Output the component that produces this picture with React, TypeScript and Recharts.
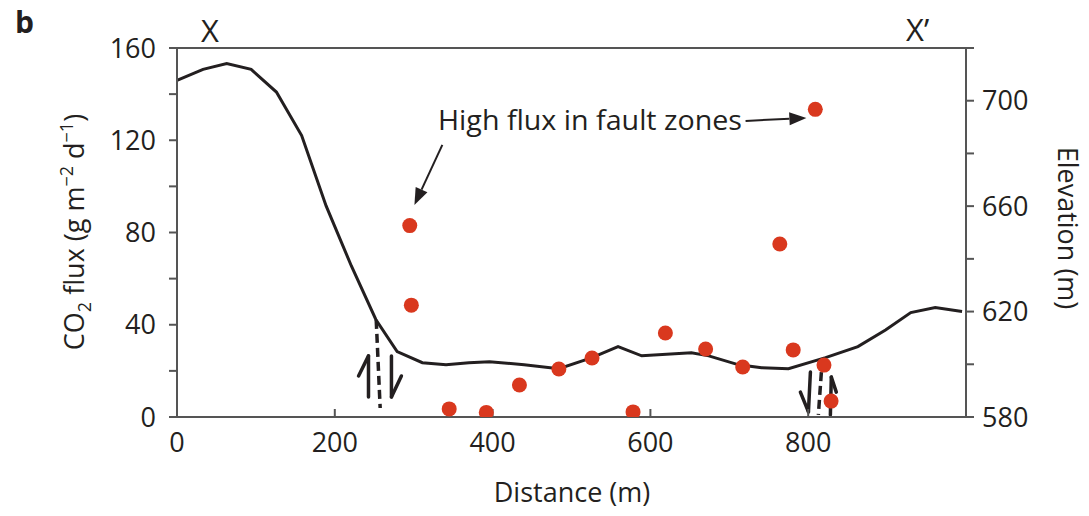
import React from 'react'
import {
  ComposedChart,
  Line,
  Scatter,
  XAxis,
  YAxis,
  ReferenceLine,
  Customized,
} from 'recharts'

// elevation profile along X–X' (distance m, elevation m)
const profileDistance = [
  0, 33, 63, 94, 126, 158, 189, 221, 252, 279, 311, 341, 370, 396, 440, 484,
  526, 559, 589, 652, 674, 712, 741, 775, 822, 863, 898, 930, 961, 995,
]
const profileElevation = [
  707.7, 711.9, 714.1, 711.9, 703.3, 686.8, 660.1, 637.3, 617, 604.8, 600.6,
  599.8, 600.6, 601, 599.8, 598.3, 602.5, 606.7, 603.2, 604.4, 603.2, 599.8,
  598.7, 598.3, 602.5, 606.7, 613, 619.6, 621.5, 620,
]

// CO2 flux measurements (distance m, flux g m-2 d-1)
const fluxDistance = [
  295, 297, 345, 392, 434, 484, 526, 578, 619, 670, 717, 764, 781, 809, 820, 829,
]
const fluxValue = [
  83, 48.5, 3.5, 2, 13.9, 20.8, 25.6, 2.2, 36.4, 29.5, 21.7, 75, 29.1, 133.4,
  22.5, 6.9,
]

const distanceTicks = [0, 200, 400, 600, 800]
const fluxTicks = [0, 20, 40, 60, 80, 100, 120, 140, 160]
const elevationTicks = [580, 600, 620, 640, 660, 680, 700, 720]

// fault symbols: dashed trace + half arrows (in distance / flux units)
const faultTraces = [
  [{ x: 252.5, y: 42.1 }, { x: 257.5, y: 3.9 }],
  [{ x: 816.7, y: 19.5 }, { x: 812.9, y: 0.9 }],
]
const faultArrows = [
  // shaft, then barb
  [{ x: 242.7, y: 8.7 }, { x: 242.7, y: 26.5 }],
  [{ x: 242.7, y: 26.5 }, { x: 230.1, y: 17.8 }],
  [{ x: 271.8, y: 26.5 }, { x: 271.8, y: 8.7 }],
  [{ x: 271.8, y: 8.7 }, { x: 284.4, y: 17.8 }],
  [{ x: 802.8, y: 19.5 }, { x: 800.3, y: 2.2 }],
  [{ x: 800.3, y: 2.2 }, { x: 790.1, y: 10.8 }],
  [{ x: 828.1, y: 0.9 }, { x: 829.3, y: 17.3 }],
  [{ x: 829.3, y: 17.3 }, { x: 835.6, y: 10.8 }],
]
// callout arrows for "High flux in fault zones"
const calloutArrows = [
  [{ x: 720.6, y: 128.4 }, { x: 797.7, y: 129.7 }],
  [{ x: 336.3, y: 118 }, { x: 300.9, y: 91.9 }],
]

const profile = profileDistance.map((d, i) => ({ d, elev: profileElevation[i] }))
const fluxPoints = fluxDistance.map((d, i) => ({ d, flux: fluxValue[i] }))

const FONT = "'Open Sans', sans-serif"
const INK = '#231f20'
const AXIS = '#555555'
const DOT = '#d9381e'

function FluxTick(props: any) {
  const { x, y, payload } = props
  if (payload.value % 40 !== 0) return null
  return (
    <text x={x} y={y} dy="0.36em" textAnchor="end" fontSize={27} fontFamily={FONT} fill={INK}>
      {payload.value}
    </text>
  )
}

function ElevationTick(props: any) {
  const { x, y, payload } = props
  if ((payload.value - 580) % 40 !== 0 || payload.value > 700) return null
  return (
    <text x={x} y={y} dy="0.36em" textAnchor="start" fontSize={27} fontFamily={FONT} fill={INK}>
      {payload.value}
    </text>
  )
}

function DistanceTick(props: any) {
  const { x, y, payload } = props
  return (
    <text x={x} y={y} dy="0.72em" textAnchor="middle" fontSize={27} fontFamily={FONT} fill={INK}>
      {payload.value}
    </text>
  )
}

function ArrowShape(props: any) {
  const { x1, y1, x2, y2 } = props
  const ang = Math.atan2(y2 - y1, x2 - x1)
  const len = 17
  const half = 6.5
  const bx = x2 - len * Math.cos(ang)
  const by = y2 - len * Math.sin(ang)
  const px = -Math.sin(ang) * half
  const py = Math.cos(ang) * half
  return (
    <g>
      <line x1={x1} y1={y1} x2={bx} y2={by} stroke={INK} strokeWidth={2} />
      <polygon
        points={`${x2},${y2} ${bx + px},${by + py} ${bx - px},${by - py}`}
        fill={INK}
      />
    </g>
  )
}

function Decorations() {
  const t = { fontFamily: FONT, fill: INK }
  return (
    <g>
      <text x={15} y={33} fontSize={30} fontWeight="bold" {...t}>b</text>
      <text x={210} y={42} fontSize={31} textAnchor="middle" {...t}>X</text>
      <text x={906} y={41} fontSize={31} {...t}>X’</text>
      <text x={438} y={130} fontSize={27} textLength={304} lengthAdjust="spacingAndGlyphs" {...t}>
        High flux in fault zones
      </text>
      <text x={572} y={502} fontSize={27} textAnchor="middle" {...t}>Distance (m)</text>
      <text transform="translate(84,232) rotate(-90)" fontSize={27} textAnchor="middle" {...t}>
        CO<tspan fontSize={18} dy={7}>2</tspan>
        <tspan dy={-7}> flux (g m</tspan>
        <tspan fontSize={18} dy={-11}>−2</tspan>
        <tspan dy={11}> d</tspan>
        <tspan fontSize={18} dy={-11}>−1</tspan>
        <tspan dy={11}>)</tspan>
      </text>
      <text transform="translate(1058,228) rotate(90)" fontSize={27} textAnchor="middle" {...t}>
        Elevation (m)
      </text>
    </g>
  )
}

export default function App() {
  return (
    <div style={{ position: 'absolute', left: 0, top: 0, background: '#fff' }}>
      <ComposedChart width={1089} height={516} margin={{ top: 48, right: 0, bottom: 0, left: 0 }}>
        <XAxis
          dataKey="d"
          type="number"
          domain={[0, 1000]}
          ticks={distanceTicks}
          height={99}
          tickSize={-8}
          tickMargin={24}
          tick={<DistanceTick />}
          axisLine={{ stroke: AXIS, strokeWidth: 2 }}
          tickLine={{ stroke: AXIS, strokeWidth: 2 }}
          allowDataOverflow
        />
        <YAxis
          yAxisId="flux"
          orientation="left"
          type="number"
          domain={[0, 160]}
          ticks={fluxTicks}
          width={177}
          tickSize={8}
          tickMargin={13}
          tick={<FluxTick />}
          axisLine={{ stroke: AXIS, strokeWidth: 2 }}
          tickLine={{ stroke: AXIS, strokeWidth: 2 }}
          allowDataOverflow
        />
        <YAxis
          yAxisId="elev"
          orientation="right"
          type="number"
          domain={[580, 720]}
          ticks={elevationTicks}
          width={123}
          tickSize={8}
          tickMargin={8}
          tick={<ElevationTick />}
          axisLine={{ stroke: AXIS, strokeWidth: 2 }}
          tickLine={{ stroke: AXIS, strokeWidth: 2 }}
          allowDataOverflow
        />
        <ReferenceLine yAxisId="flux" y={160} stroke={AXIS} strokeWidth={2} />
        {faultTraces.map((seg, i) => (
          <ReferenceLine
            key={`trace-${i}`}
            yAxisId="flux"
            segment={seg}
            stroke={INK}
            strokeWidth={3.5}
            strokeDasharray="9 5"
          />
        ))}
        {faultArrows.map((seg, i) => (
          <ReferenceLine
            key={`farrow-${i}`}
            yAxisId="flux"
            segment={seg}
            stroke={INK}
            strokeWidth={3.5}
            strokeLinecap="round"
          />
        ))}
        <Line
          data={profile}
          dataKey="elev"
          yAxisId="elev"
          type="linear"
          stroke={INK}
          strokeWidth={3}
          dot={false}
          isAnimationActive={false}
        />
        <Scatter
          data={fluxPoints}
          dataKey="flux"
          yAxisId="flux"
          fill={DOT}
          isAnimationActive={false}
          shape={(p: any) => <circle cx={p.cx} cy={p.cy} r={7.5} fill={DOT} />}
        />
        {calloutArrows.map((seg, i) => (
          <ReferenceLine
            key={`callout-${i}`}
            yAxisId="flux"
            segment={seg}
            shape={ArrowShape}
          />
        ))}
        <Customized component={Decorations} />
      </ComposedChart>
    </div>
  )
}
